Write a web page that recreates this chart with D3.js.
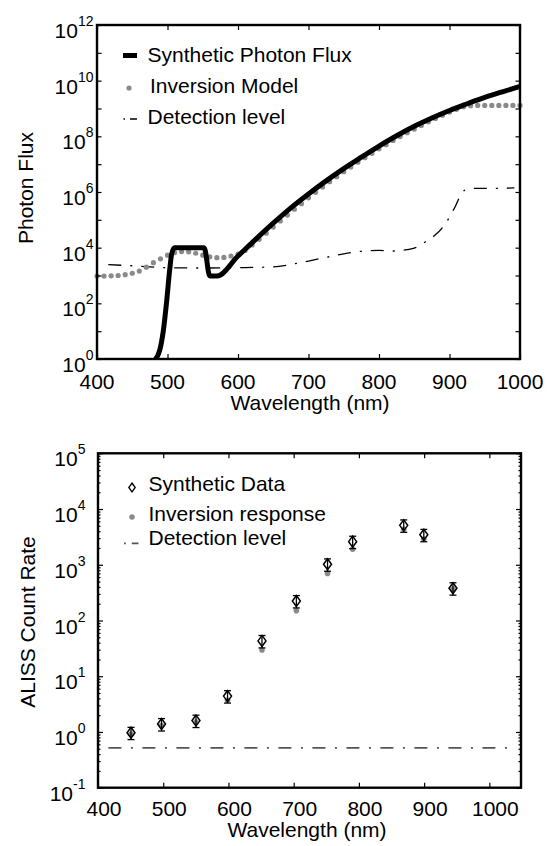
<!DOCTYPE html>
<html>
<head>
<meta charset="utf-8">
<script src="https://cdn.jsdelivr.net/npm/d3@7"></script>
<style>
body { margin: 0; background: #fff; }
text { font-family: "Liberation Sans", Arial, Helvetica, sans-serif; fill: #000; }
</style>
</head>
<body>
<svg width="547" height="846"></svg>
<script>
// ---- top panel data (log10 of photon flux) ----
var fluxWl  = [480, 489, 494, 499, 503, 506, 510, 552, 560, 570, 600, 625, 650, 675, 700, 725, 750, 775, 800, 825, 850, 875, 900, 925, 950, 975, 1000];
var fluxLog = [-0.1, 0.32, 1.0, 2.12, 3.18, 3.78, 4.0, 4.0, 2.98, 2.98, 3.7, 4.3, 4.88, 5.43, 5.93, 6.4, 6.84, 7.25, 7.65, 8.02, 8.36, 8.66, 8.93, 9.17, 9.4, 9.6, 9.79];

var modelWl  = [400, 410, 420, 430, 440, 450, 460, 470, 480, 490, 500, 510, 520, 530, 540, 550, 560, 570, 580, 590,
                600, 610, 620, 630, 640, 650, 660, 670, 680, 690, 700, 710, 720, 730, 740, 750, 760, 770, 780, 790,
                800, 810, 820, 830, 840, 850, 860, 870, 880, 890, 900, 910, 920, 930, 940, 950, 960, 970, 980, 990, 1000];
var modelLog = [2.98, 2.98, 2.99, 3.0, 3.03, 3.08, 3.16, 3.3, 3.46, 3.6, 3.73, 3.82, 3.86, 3.85, 3.8, 3.73, 3.67, 3.64, 3.65, 3.7,
                3.77, 3.9, 4.1, 4.3, 4.52, 4.74, 4.96, 5.17, 5.38, 5.58, 5.79, 5.99, 6.18, 6.37, 6.55, 6.73, 6.9, 7.07, 7.23, 7.39,
                7.55, 7.7, 7.85, 7.99, 8.13, 8.26, 8.39, 8.52, 8.64, 8.76, 8.87, 8.97, 9.06, 9.1, 9.11, 9.11, 9.11, 9.11, 9.11, 9.11, 9.11];

var detWl  = [416, 450, 500, 550, 600, 650, 680, 700, 725, 750, 775, 800, 820, 840, 855, 868, 880, 891, 900, 908, 915, 922, 935, 960, 992];
var detLog = [3.39, 3.35, 3.28, 3.27, 3.28, 3.31, 3.42, 3.52, 3.65, 3.78, 3.87, 3.9, 3.88, 3.93, 4.03, 4.25, 4.46, 4.75, 5.1, 5.47, 5.85, 6.07, 6.13, 6.13, 6.15];

var topXTicks = [400, 500, 600, 700, 800, 900, 1000];
var topYExp = [0, 2, 4, 6, 8, 10, 12];
var topLegend = ["Synthetic Photon Flux", "Inversion Model", "Detection level"];

// ---- bottom panel data ----
var bandWl = [450.6, 497.4, 550.2, 598.6, 651.4, 704.1, 751.9, 790.4, 868.7, 899.5, 944.2];
var synthCounts = [0.97, 1.39, 1.6, 4.4, 43, 224, 1020, 2600, 5100, 3450, 380];
var synthErr = [0.24, 0.35, 0.4, 1.1, 10.8, 56, 255, 650, 1275, 860, 95];
var inversionCounts = [0.92, 1.3, 1.5, 3.7, 29.6, 150, 700, 1900, 4350, 2900, 365];
var detCountWl = [416, 1033];
var detCountLevel = [0.52, 0.52];

var botXTicks = [400, 500, 600, 700, 800, 900, 1000];
var botYExp = [-1, 0, 1, 2, 3, 4, 5];
var botLegend = ["Synthetic Data", "Inversion response", "Detection level"];

var svg = d3.select("svg");
var gray = "#8a8a8a";

function expLabel(g, xPos, yPos, exp) {
	var t = g.append("text")
		.attr("x", xPos)
		.attr("y", yPos + 13)
		.attr("text-anchor", "end")
		.style("font-size", "21px");
	t.append("tspan").text("10");
	t.append("tspan").attr("dy", -12).style("font-size", "14px").text(exp);
}

function tickAxis(g, axis, transform) {
	var a = g.append("g").attr("transform", transform).call(axis);
	a.select(".domain").remove();
	a.selectAll("line").attr("stroke", "#000").attr("stroke-width", 1.2);
	a.selectAll("text").remove();
}

function tickLabels(g, x, y, xt, yexp, ylabX, xlabY, xoff) {
	xt.forEach(function(v) {
		g.append("text").attr("x", x(v) + xoff).attr("y", xlabY).attr("text-anchor", "middle")
			.style("font-size", "21px").text(v);
	});
	yexp.forEach(function(e) {
		expLabel(g, ylabX, y(Math.pow(10, e)), e);
	});
}

function drawTop() {
	var left = 97, right = 520, top = 25, bottom = 359;
	var x = d3.scaleLinear().domain([400, 1000]).range([left, right]);
	var y = d3.scaleLog().domain([1, 1e12]).range([bottom, top]);
	var g = svg.append("g");

	g.append("clipPath").attr("id", "clipTop")
		.append("rect").attr("x", left).attr("y", top).attr("width", right - left).attr("height", bottom - top);

	var line = d3.line()
		.x(function(d) { return x(d[0]); })
		.y(function(d) { return y(Math.pow(10, d[1])); })
		.curve(d3.curveMonotoneX);

	// detection level
	g.append("path")
		.datum(d3.zip(detWl, detLog))
		.attr("d", line)
		.attr("fill", "none")
		.attr("stroke", "#000")
		.attr("stroke-width", 1.3)
		.attr("stroke-dasharray", "13,9,2,9");

	// inversion model dots
	g.selectAll(".model")
		.data(d3.zip(modelWl, modelLog))
		.enter()
		.append("circle")
		.attr("cx", function(d) { return x(d[0]); })
		.attr("cy", function(d) { return y(Math.pow(10, d[1])); })
		.attr("r", 2.6)
		.attr("fill", gray);

	// synthetic flux
	g.append("path")
		.datum(d3.zip(fluxWl, fluxLog))
		.attr("d", line)
		.attr("clip-path", "url(#clipTop)")
		.attr("fill", "none")
		.attr("stroke", "#000")
		.attr("stroke-width", 5)
		.attr("stroke-linejoin", "round");

	// ticks
	var decades = d3.range(0, 13).map(function(e) { return Math.pow(10, e); });
	tickAxis(g, d3.axisLeft(y).tickValues(decades).tickSize(-4.5), "translate(" + left + ",0)");
	tickAxis(g, d3.axisRight(y).tickValues(decades).tickSize(-4.5), "translate(" + right + ",0)");
	tickAxis(g, d3.axisBottom(x).tickValues(topXTicks).tickSize(-5), "translate(0," + bottom + ")");
	tickAxis(g, d3.axisTop(x).tickValues(topXTicks).tickSize(-5), "translate(0," + top + ")");

	g.append("rect")
		.attr("x", left).attr("y", top).attr("width", right - left).attr("height", bottom - top)
		.attr("fill", "none").attr("stroke", "#000").attr("stroke-width", 2.4);

	tickLabels(g, x, y, topXTicks, topYExp, left - 3.5, bottom + 29.5, 0);

	g.append("text").attr("x", 310).attr("y", 410).attr("text-anchor", "middle")
		.style("font-size", "21px").text("Wavelength (nm)");
	g.append("text").attr("transform", "translate(33,188) rotate(-90)").attr("text-anchor", "middle")
		.style("font-size", "21px").text("Photon Flux");

	// legend
	g.append("line").attr("x1", 123).attr("x2", 137).attr("y1", 55.5).attr("y2", 55.5)
		.attr("stroke", "#000").attr("stroke-width", 5);
	g.append("circle").attr("cx", 129).attr("cy", 88).attr("r", 2.6).attr("fill", gray);
	g.append("line").attr("x1", 123.5).attr("x2", 137).attr("y1", 119).attr("y2", 119)
		.attr("stroke", "#000").attr("stroke-width", 1.3).attr("stroke-dasharray", "1.5,5,10");
	var legY = [62, 93, 124];
	topLegend.forEach(function(s, i) {
		g.append("text").attr("x", i == 1 ? 150 : 147.5).attr("y", legY[i])
			.style("font-size", "21px").text(s);
	});
}

function drawBottom() {
	var left = 98, right = 521, top = 453.3, bottom = 787.7;
	var x = d3.scaleLinear().domain([400, 1048.5]).range([left, right]);
	var y = d3.scaleLog().domain([0.1, 1e5]).range([bottom, top]);
	var g = svg.append("g");

	// detection level
	g.append("path")
		.datum(d3.zip(detCountWl, detCountLevel))
		.attr("d", d3.line().x(function(d) { return x(d[0]); }).y(function(d) { return y(d[1]); }))
		.attr("fill", "none")
		.attr("stroke", "#555")
		.attr("stroke-width", 1.8)
		.attr("stroke-dasharray", "13,9.5,2,9.5");

	var pts = d3.zip(bandWl, synthCounts, synthErr, inversionCounts);

	g.selectAll(".inv")
		.data(pts)
		.enter()
		.append("circle")
		.attr("cx", function(d) { return x(d[0]); })
		.attr("cy", function(d) { return y(d[3]); })
		.attr("r", 2.8)
		.attr("fill", gray);

	var eb = g.selectAll(".err").data(pts).enter().append("g").attr("stroke", "#000").attr("stroke-width", 1.3);
	eb.append("line")
		.attr("x1", function(d) { return x(d[0]); }).attr("x2", function(d) { return x(d[0]); })
		.attr("y1", function(d) { return y(d[1] + d[2]); }).attr("y2", function(d) { return y(d[1] - d[2]); });
	eb.append("line")
		.attr("x1", function(d) { return x(d[0]) - 3.5; }).attr("x2", function(d) { return x(d[0]) + 3.5; })
		.attr("y1", function(d) { return y(d[1] + d[2]); }).attr("y2", function(d) { return y(d[1] + d[2]); });
	eb.append("line")
		.attr("x1", function(d) { return x(d[0]) - 3.5; }).attr("x2", function(d) { return x(d[0]) + 3.5; })
		.attr("y1", function(d) { return y(d[1] - d[2]); }).attr("y2", function(d) { return y(d[1] - d[2]); });

	var diamond = "M0,-5.5L4,0L0,5.5L-4,0Z";
	g.selectAll(".syn")
		.data(pts)
		.enter()
		.append("path")
		.attr("d", diamond)
		.attr("transform", function(d) { return "translate(" + x(d[0]) + "," + y(d[1]) + ")"; })
		.attr("fill", "none")
		.attr("stroke", "#000")
		.attr("stroke-width", 1.5);

	// ticks
	var major = d3.range(-1, 6).map(function(e) { return Math.pow(10, e); });
	var minor = [];
	d3.range(-1, 5).forEach(function(e) {
		d3.range(2, 10).forEach(function(k) { minor.push(k * Math.pow(10, e)); });
	});
	tickAxis(g, d3.axisLeft(y).tickValues(major).tickSize(-5), "translate(" + left + ",0)");
	tickAxis(g, d3.axisRight(y).tickValues(major).tickSize(-5), "translate(" + right + ",0)");
	tickAxis(g, d3.axisLeft(y).tickValues(minor).tickSize(-2.5), "translate(" + left + ",0)");
	tickAxis(g, d3.axisRight(y).tickValues(minor).tickSize(-2.5), "translate(" + right + ",0)");
	tickAxis(g, d3.axisBottom(x).tickValues(botXTicks).tickSize(-5), "translate(0," + bottom + ")");
	tickAxis(g, d3.axisTop(x).tickValues(botXTicks).tickSize(-5), "translate(0," + top + ")");

	g.append("rect")
		.attr("x", left).attr("y", top).attr("width", right - left).attr("height", bottom - top)
		.attr("fill", "none").attr("stroke", "#000").attr("stroke-width", 2.4);

	tickLabels(g, x, y, botXTicks, botYExp, left - 12.5, bottom + 28.5, 6);

	g.append("text").attr("x", 307).attr("y", 837).attr("text-anchor", "middle")
		.style("font-size", "21px").text("Wavelength (nm)");
	g.append("text").attr("transform", "translate(35,622) rotate(-90)").attr("text-anchor", "middle")
		.style("font-size", "21px").text("ALISS Count Rate");

	// legend
	g.append("path").attr("d", "M0,-4.5L3.2,0L0,4.5L-3.2,0Z").attr("transform", "translate(132,487.5)")
		.attr("fill", "#fff").attr("stroke", "#000").attr("stroke-width", 1.3);
	g.append("circle").attr("cx", 132).attr("cy", 517).attr("r", 2.8).attr("fill", gray);
	g.append("line").attr("x1", 124).attr("x2", 138.5).attr("y1", 543.3).attr("y2", 543.3)
		.attr("stroke", "#555").attr("stroke-width", 1.8).attr("stroke-dasharray", "1.8,6,7");
	var legY = [491, 521, 545];
	botLegend.forEach(function(s, i) {
		g.append("text").attr("x", 148.5).attr("y", legY[i])
			.style("font-size", "21px").text(s);
	});
}

drawTop();
drawBottom();
</script>
</body>
</html>
